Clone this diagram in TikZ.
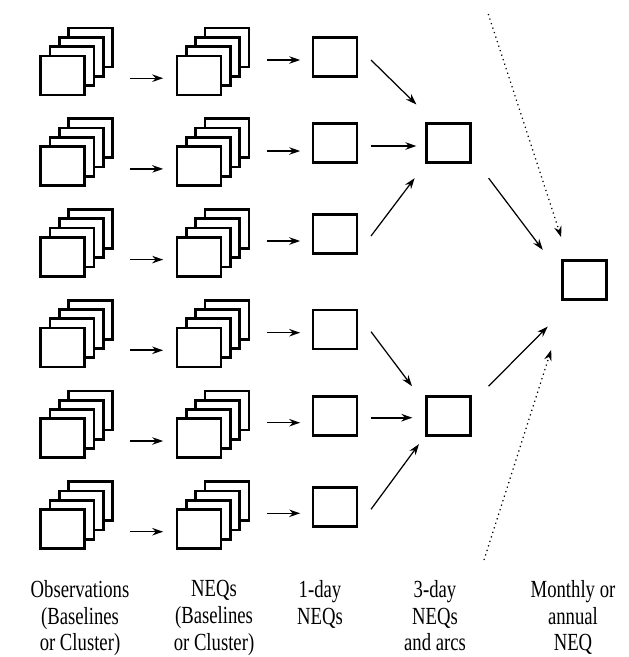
\documentclass[tikz,border=0pt]{standalone}
\usepackage{fontspec}
\setmainfont{Liberation Serif}
\newfontfamily\capfont[FakeStretch=0.76]{Liberation Serif}
\usepackage{tikz}
\usetikzlibrary{arrows.meta}

\begin{document}
\begin{tikzpicture}[
    x=0.02cm, y=-0.02cm,
    >={Stealth[length=0.22cm, width=0.15cm]},
    sheet/.style={draw, fill=white, line width=1.5pt, inner sep=0pt,
                  minimum width=0.88cm, minimum height=0.78cm},
    flow/.style={->, line width=0.7pt},
    heavy/.style={->, line width=1.1pt},
    hint/.style={->, line width=0.7pt, dotted},
    caption/.style={anchor=north, align=center, inner sep=0pt,
                    font=\capfont\fontsize{14}{15.2}\selectfont}
]
\useasboundingbox (0,0) rectangle (629,657);

% Stacks of observations and of per-session NEQs.
\foreach \r/\y/\wa in {1/75.5/0.7pt, 2/166.2/0.7pt, 3/256.9/0.7pt,
                       4/347.6/1.1pt, 5/438.3/0.7pt, 6/529/0.7pt} {
    \foreach \k in {3,2,1} {
        \node[sheet] (obs\r-\k) at (62.7+9.3*\k, \y-9.3*\k) {};
        \node[sheet] (neq\r-\k) at (199+9.3*\k, \y-9.3*\k) {};
    }
    \node[sheet] (obs\r) at (62.7,\y) {};
    \node[sheet] (neq\r) at (199,\y) {};
    \draw[->, line width=\wa, shorten <=0.88cm, shorten >=0.25cm]
        ([yshift=-0.054cm]obs\r.east) -- ([yshift=-0.054cm]neq\r.west);
}

% 1-day NEQs.
\foreach \r/\y/\wb/\dy in {1/57/0.7pt/3, 2/143/0.7pt/8, 3/234/1.1pt/7,
                           4/329.5/0.7pt/3.2, 5/416/0.7pt/6.7, 6/506.7/0.7pt/6.6} {
    \node[sheet] (day\r) at (335,\y) {};
    \draw[->, line width=\wb, shorten <=0.89cm, shorten >=0.23cm]
        ([yshift=-\dy*0.02cm]neq\r.east |- day\r.west) -- ([yshift=-\dy*0.02cm]day\r.west);
}

% 3-day NEQs and the final one.
\node[sheet] (tri1) at (448.7,143) {};
\node[sheet] (tri2) at (448.7,416) {};
\node[sheet] (month) at (584.5,280) {};

\draw[flow] ([shift={(12.7,3)}]day1.east) -- ([shift={(-9,-17.7)}]tri1.north west);
\draw[heavy] ([shift={(12.7,3)}]day2.east) -- ([shift={(-9,3)}]tri1.west);
\draw[flow] ([shift={(12.7,2)}]day3.east) -- ([shift={(-10.7,14.3)}]tri1.south west);
\draw[flow] ([shift={(12.7,2.2)}]day4.east) -- ([shift={(-13.4,-9)}]tri2.north west);
\draw[heavy] ([shift={(12.7,1.7)}]day5.east) -- ([shift={(-13,1.7)}]tri2.west);
\draw[flow] ([shift={(12.7,2.6)}]day6.east) -- ([shift={(-6.4,7.3)}]tri2.south west);

\coordinate (before) at (488.3,14);
\coordinate (after) at (484,560);
\draw[hint] (before) -- ([shift={(0,-22)}]month.north west);
\draw[flow] ([shift={(16.6,14.3)}]tri1.south east) -- ([shift={(-18.4,-9.3)}]month.north west);
\draw[flow] ([shift={(16.6,-9)}]tri2.north east) -- ([shift={(-13.4,25.7)}]month.south west);
\draw[hint] (after) -- ([shift={(-10,49)}]month.south west);

% Column captions.
\node[caption] (lblobs) at (80,580) {Observations\\(Baselines\\or Cluster)};
\node[caption] (lblneq) at (214,580) {NEQs\\(Baselines\\or Cluster)};
\node[caption] (lblday) at (320,580) {1-day\\NEQs};
\node[caption] (lbltri) at (435,580) {3-day\\NEQs\\and arcs};
\node[caption] (lblmonth) at (573,580) {Monthly or\\annual\\NEQ};
\end{tikzpicture}
\end{document}
